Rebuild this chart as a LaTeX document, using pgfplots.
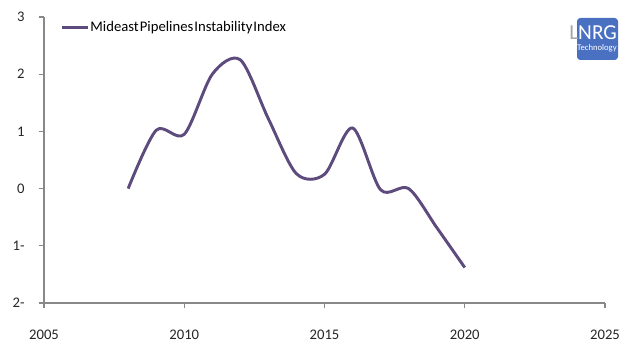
\documentclass[border=0pt]{standalone}
\usepackage{pgfplots}
\pgfplotsset{compat=1.18}
\usepackage{fontspec}
\setmainfont{Carlito}
\definecolor{lineP}{HTML}{5D4B7D}
\definecolor{axgray}{HTML}{888888}
\definecolor{logoblue}{HTML}{4A70C2}
\begin{document}
\begin{tikzpicture}[x=0.75pt,y=0.75pt]
\path[use as bounding box,fill=white] (0,0) rectangle (640,360);
\begin{axis}[
  at={(33pt,42.75pt)}, anchor=south west,
  scale only axis, width=420.75pt, height=214.5pt,
  xmin=2005, xmax=2025, ymin=-2, ymax=3,
  axis x line*=bottom, axis y line*=left,
  axis line style={axgray,-,line width=0.8pt},
  xtick={2005,2010,2015,2020,2025},
  ytick={-2,-1,0,1,2,3},
  yticklabels={2-,1-,0,1,2,3},
  tick align=outside,
  major tick length=4pt,
  tick style={axgray,line width=0.8pt},
  /pgf/number format/assume math mode=true,
  /pgf/number format/1000 sep={},
  ticklabel style={font=\fontsize{11}{13}\selectfont, text=black!85},
  xticklabel style={yshift=-13pt},
  yticklabel style={xshift=-7pt},
  legend style={at={(rel axis cs:0.03,0.962)}, anchor=west, draw=none, fill=none,
    font=\fontsize{11}{13}\selectfont, inner sep=0pt, outer sep=0pt,
    /tikz/every even column/.append style={column sep=0pt}},
  legend cell align=left,
  legend image code/.code={\draw[#1] (0pt,0pt) -- (19pt,0pt);},
  clip=false,
]
\addplot[lineP, line width=2.2pt, smooth, tension=0.5] coordinates {
(2008,0.0) (2009,1.02) (2010,0.95) (2011,2.0) (2012,2.25) (2013,1.22)
(2014,0.26) (2015,0.25) (2016,1.06) (2017,-0.02) (2018,0.0) (2019,-0.68) (2020,-1.38)
};
\addlegendentry{\hspace{-1pt}{\spaceskip=0.8pt Mideast Pipelines Instability Index}}
\end{axis}
\fill[logoblue, rounded corners=2.5pt] (577,342) rectangle (618,300);
\node[anchor=west, inner sep=0pt, font=\fontsize{16}{17}\selectfont] at (569,327) {\textcolor{gray!70}{L}\textcolor{white}{NRG}};
\node[anchor=east, inner sep=0pt, text=white, font=\fontsize{6.5}{7}\selectfont] at (617,312) {Technology};
\end{tikzpicture}
\end{document}
